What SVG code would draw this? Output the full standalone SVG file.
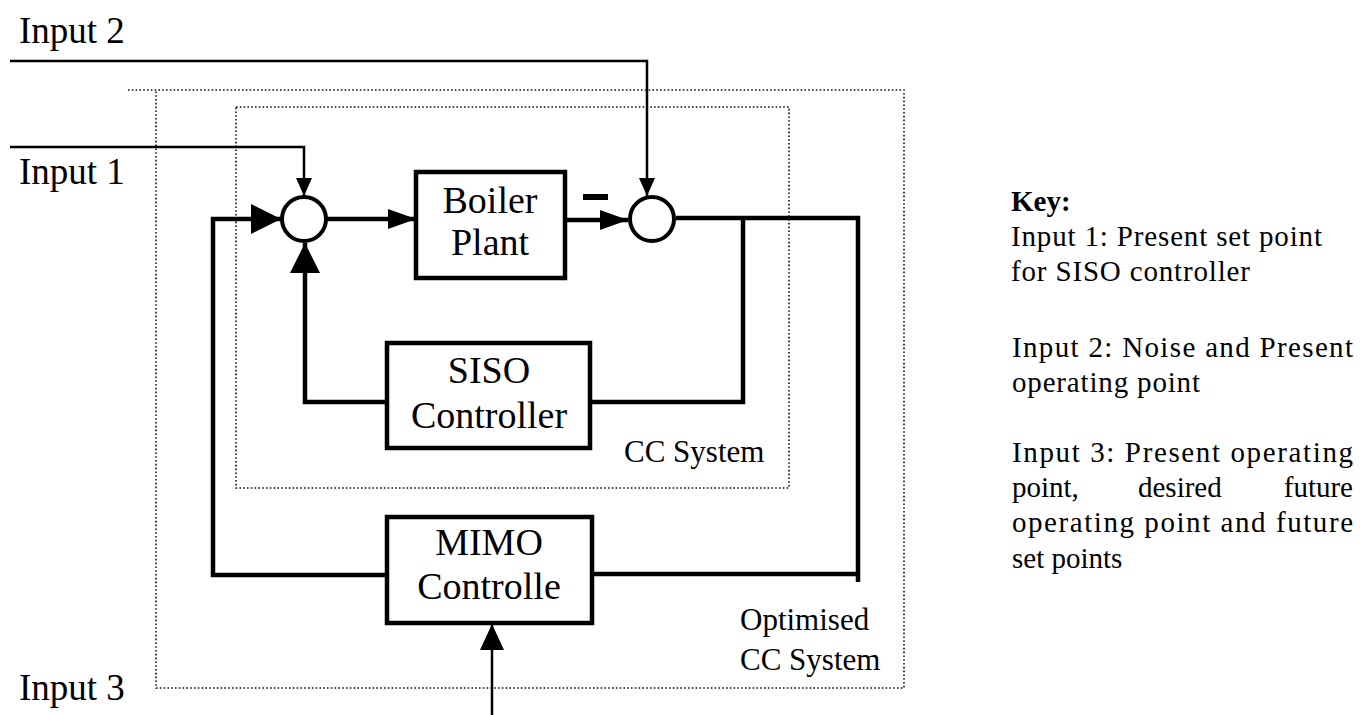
<svg xmlns="http://www.w3.org/2000/svg" width="1364" height="715" viewBox="0 0 1364 715">
<style>
.bg{fill:#fff}
.dot{fill:none;stroke:#111;stroke-width:1.6;stroke-dasharray:1.6 2.2}
.thick{fill:none;stroke:#000;stroke-width:4.5}
.thin{fill:none;stroke:#000;stroke-width:2.5}
.box{fill:#fff;stroke:#000;stroke-width:4.5}
.sum{fill:#fff;stroke:#000;stroke-width:4}
.lbl{font-family:"Liberation Serif","Times New Roman",serif;font-size:37px;fill:#000}
.blk{font-family:"Liberation Serif","Times New Roman",serif;font-size:38px;fill:#000;text-anchor:middle}
.sys{font-family:"Liberation Serif","Times New Roman",serif;font-size:31px;fill:#000}
.key{font-family:"Liberation Serif","Times New Roman",serif;font-size:29px;fill:#000}
.ke{text-anchor:end}
</style>
<defs>
<marker id="aBig" markerUnits="userSpaceOnUse" markerWidth="30" markerHeight="30" refX="30" refY="15" orient="auto"><path d="M0,0 L30,15 L0,30 z" fill="#000"/></marker>
<marker id="aMid" markerUnits="userSpaceOnUse" markerWidth="28" markerHeight="20" refX="28" refY="10" orient="auto"><path d="M0,0 L28,10 L0,20 z" fill="#000"/></marker>
<marker id="aSm" markerUnits="userSpaceOnUse" markerWidth="18" markerHeight="16" refX="18" refY="8" orient="auto"><path d="M0,0 L18,8 L0,16 z" fill="#000"/></marker>
<marker id="aIn3" markerUnits="userSpaceOnUse" markerWidth="26" markerHeight="24" refX="26" refY="12" orient="auto"><path d="M0,0 L26,12 L0,24 z" fill="#000"/></marker>
</defs>
<rect class="bg" x="0" y="0" width="1364" height="715"/>

<g id="boundaries">
<path class="dot" d="M128,90 H904 V688 H156 V90"/>
<rect class="dot" x="236" y="107" width="553" height="381"/>
</g>

<g id="connectors">
<path class="thin" d="M10,61 H647 V196" marker-end="url(#aSm)"/>
<path class="thin" d="M10,147 H304 V196" marker-end="url(#aSm)"/>
<path class="thick" d="M387,575 H213 V219 H281" marker-end="url(#aBig)"/>
<path class="thick" d="M327,219 H416" marker-end="url(#aMid)"/>
<path class="thick" d="M565,220 H628" marker-end="url(#aMid)"/>
<path class="thick" d="M676,218 H858 V582 M858,574 H592"/>
<path class="thick" d="M743,218 V402 H590"/>
<path class="thick" d="M387,402 H305 V243" marker-end="url(#aBig)"/>
<path class="thin" d="M492,715 V624" marker-end="url(#aIn3)"/>
<rect x="583" y="194" width="25" height="6" fill="#000"/>
</g>

<g id="sum1"><circle class="sum" cx="304" cy="219" r="22"/></g>
<g id="sum2"><circle class="sum" cx="652" cy="219" r="22"/></g>

<g id="boiler">
<rect class="box" x="416" y="172" width="149" height="106"/>
<text class="blk" x="490" y="213">Boiler</text>
<text class="blk" x="490" y="255">Plant</text>
</g>

<g id="siso">
<rect class="box" x="387" y="343" width="203" height="105"/>
<text class="blk" x="489" y="383">SISO</text>
<text class="blk" x="489" y="428">Controller</text>
</g>

<g id="mimo">
<rect class="box" x="387" y="517" width="205" height="106"/>
<text class="blk" x="489" y="555">MIMO</text>
<text class="blk" x="489" y="599">Controlle</text>
</g>

<g id="labels">
<text class="lbl" x="19" y="43">Input 2</text>
<text class="lbl" x="19" y="184">Input 1</text>
<text class="lbl" x="19" y="700">Input 3</text>
<text class="sys" x="624" y="462">CC System</text>
<text class="sys" x="740" y="630">Optimised</text>
<text class="sys" x="740" y="670">CC System</text>
</g>

<g id="key">
<text class="key" x="1011" y="211" font-weight="bold">Key:</text>
<text class="key" x="1011" y="246" textLength="311" lengthAdjust="spacing">Input 1: Present set point</text>
<text class="key" x="1011" y="281" textLength="239" lengthAdjust="spacing">for SISO controller</text>
<text class="key" x="1012" y="357" textLength="341" lengthAdjust="spacing">Input 2: Noise and Present</text>
<text class="key" x="1012" y="392" textLength="188" lengthAdjust="spacing">operating point</text>
<text class="key" x="1012" y="462" textLength="341" lengthAdjust="spacing">Input 3: Present operating</text>
<text class="key" y="497"><tspan x="1012">point,</tspan><tspan x="1138">desired</tspan></text>
<text class="key ke" x="1353" y="497">future</text>
<text class="key" x="1012" y="532" textLength="341" lengthAdjust="spacing">operating point and future</text>
<text class="key" x="1012" y="568">set points</text>
</g>
</svg>
